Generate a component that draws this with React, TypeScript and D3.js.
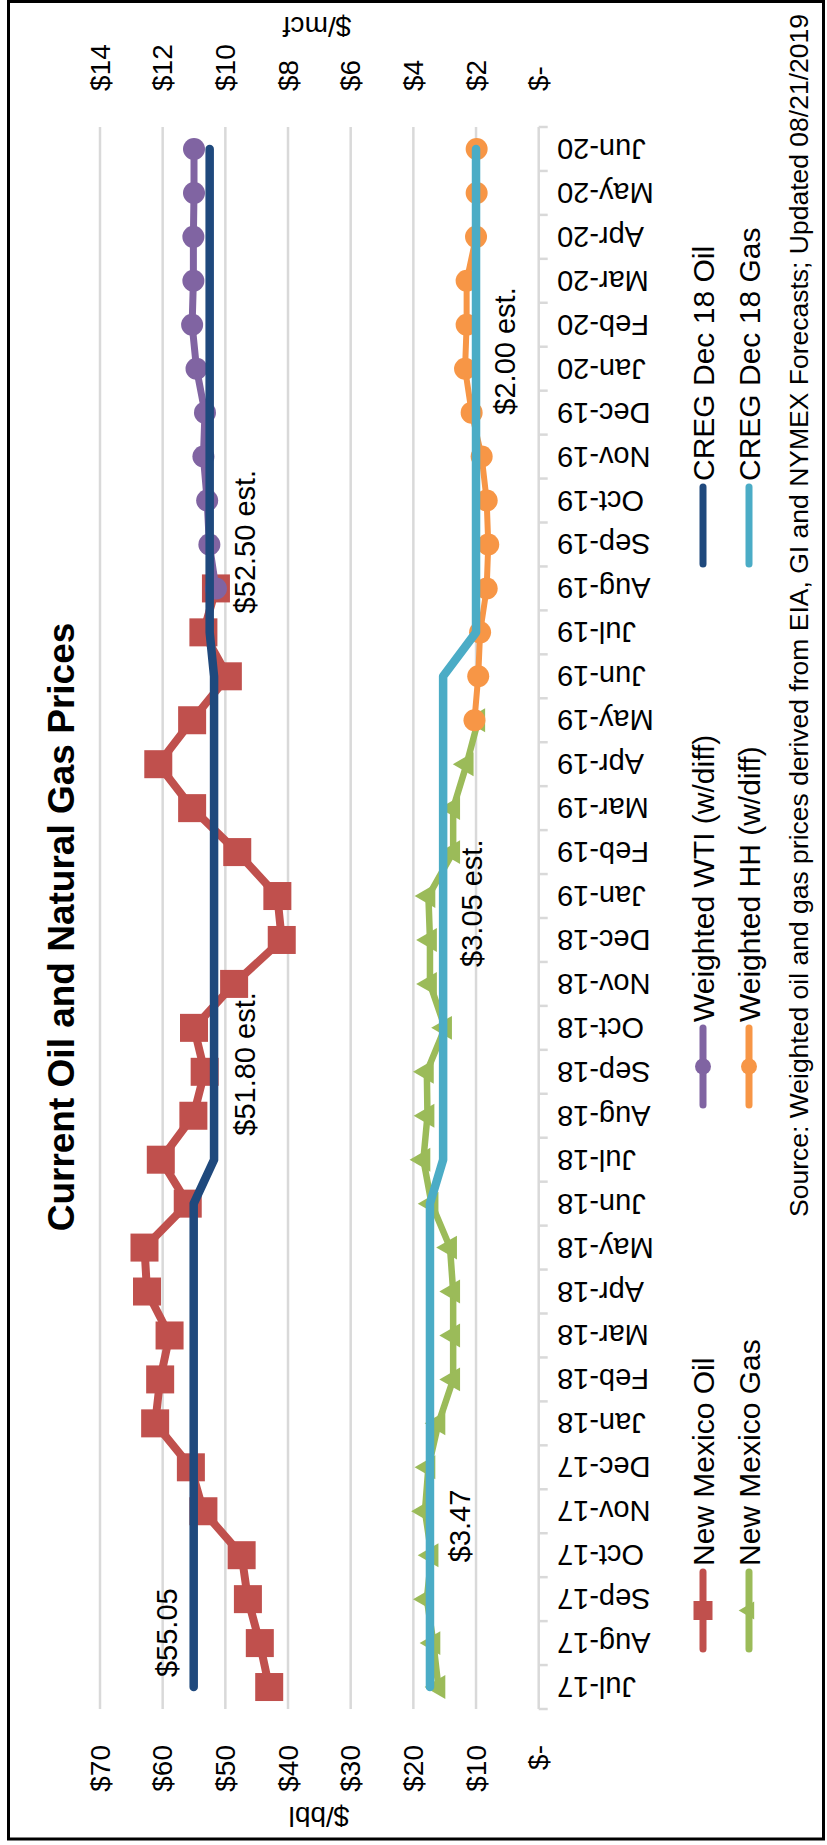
import React, { useRef, useEffect } from 'react';
import * as d3 from 'd3';

// months on the category axis
const months = ['Jul-17', 'Aug-17', 'Sep-17', 'Oct-17', 'Nov-17', 'Dec-17', 'Jan-18', 'Feb-18', 'Mar-18',
  'Apr-18', 'May-18', 'Jun-18', 'Jul-18', 'Aug-18', 'Sep-18', 'Oct-18', 'Nov-18', 'Dec-18', 'Jan-19',
  'Feb-19', 'Mar-19', 'Apr-19', 'May-19', 'Jun-19', 'Jul-19', 'Aug-19', 'Sep-19', 'Oct-19', 'Nov-19',
  'Dec-19', 'Jan-20', 'Feb-20', 'Mar-20', 'Apr-20', 'May-20', 'Jun-20'];

// $/bbl, Jul-17 .. Aug-19
const nmOil = [43.0, 44.5, 46.4, 47.4, 53.5, 55.5, 61.2, 60.4, 58.9, 62.5, 62.9, 56.0, 60.3, 55.1,
  53.3, 55.0, 48.6, 41.0, 41.7, 48.1, 55.3, 60.7, 55.3, 49.6, 53.5, 51.5];
// $/mcf, Jul-17 .. May-19
const nmGas = [3.20, 3.36, 3.57, 3.42, 3.63, 3.52, 3.20, 2.73, 2.73, 2.73, 2.83, 3.42, 3.68, 3.55,
  3.57, 2.99, 3.47, 3.47, 3.52, 2.73, 2.73, 2.30, 1.93];
// $/bbl, Aug-19 .. Jun-20
const weightedWti = [51.5, 52.55, 52.9, 53.5, 53.25, 54.6, 55.3, 55.1, 55.1, 55.0, 55.0];
// $/mcf, May-19 .. Jun-20
const weightedHh = [2.05, 1.93, 1.87, 1.66, 1.61, 1.66, 1.82, 2.14, 2.35, 2.30, 2.30, 2.00, 1.98, 1.98];
// CREG forecasts, Jul-17 .. Jun-20
const cregOil = [55.05, 55.05, 55.05, 55.05, 55.05, 55.05, 55.05, 55.05, 55.05, 55.05, 55.05, 55.05,
  51.80, 51.80, 51.80, 51.80, 51.80, 51.80, 51.80, 51.80, 51.80, 51.80, 51.80, 51.80,
  52.50, 52.50, 52.50, 52.50, 52.50, 52.50, 52.50, 52.50, 52.50, 52.50, 52.50, 52.50];
const cregGas = [3.47, 3.47, 3.47, 3.47, 3.47, 3.47, 3.47, 3.47, 3.47, 3.47, 3.47, 3.47,
  3.05, 3.05, 3.05, 3.05, 3.05, 3.05, 3.05, 3.05, 3.05, 3.05, 3.05, 3.05,
  2.00, 2.00, 2.00, 2.00, 2.00, 2.00, 2.00, 2.00, 2.00, 2.00, 2.00, 2.00];

const oilTicks = [0, 10, 20, 30, 40, 50, 60, 70];
const gasTicks = [0, 2, 4, 6, 8, 10, 12, 14];

const dataLabels = [
  { text: '$55.05', month: 'Jul-17', value: 55.05, axis: 'oil' },
  { text: '$3.47', month: 'Oct-17', value: 3.47, axis: 'gas' },
  { text: '$51.80 est.', month: 'Jul-18', value: 51.80, axis: 'oil' },
  { text: '$3.05 est.', month: 'Nov-18', value: 3.05, axis: 'gas' },
  { text: '$52.50 est.', month: 'Jul-19', value: 52.50, axis: 'oil' },
  { text: '$2.00 est.', month: 'Dec-19', value: 2.00, axis: 'gas' },
];

const legendNames = ['New Mexico Oil', 'New Mexico Gas', 'Weighted WTI (w/diff)', 'Weighted HH (w/diff)',
  'CREG Dec 18 Oil', 'CREG Dec 18 Gas'];

const title = 'Current Oil and Natural Gas Prices';
const source = 'Source: Weighted oil and gas prices derived from EIA, GI and NYMEX Forecasts; Updated 08/21/2019';

const FONT = "'Liberation Sans', Arial, sans-serif";

const App = () => {
  const svgRef = useRef(null);
  const W = 827, H = 1845;

  useEffect(() => {
    const svg = d3.select(svgRef.current);
    svg.selectAll('*').remove();
    svg.attr('style', 'background-color: #ffffff');

    svg.append('rect').attr('width', W).attr('height', H).attr('fill', '#fff');

    // the whole chart is drawn unrotated and then turned a quarter left
    const g = svg.append('g').attr('transform', `translate(0,${H}) rotate(-90)`);

    const x = d3.scaleBand().domain(months).range([136, 1718]);
    const xc = (m) => x(m) + x.bandwidth() / 2;
    const yOil = d3.scaleLinear().domain([0, 70]).range([538.7, 100]);
    const yGas = d3.scaleLinear().domain([0, 14]).range([538.7, 100]);

    // gridlines
    g.selectAll('.grid').data(oilTicks.filter(d => d > 0)).enter().append('line')
      .attr('x1', 136).attr('x2', 1718)
      .attr('y1', d => yOil(d)).attr('y2', d => yOil(d))
      .attr('stroke', '#d9d9d9').attr('stroke-width', 2.5);

    // category axis
    g.append('line').attr('x1', 136).attr('x2', 1718)
      .attr('y1', yOil(0)).attr('y2', yOil(0))
      .attr('stroke', '#d9d9d9').attr('stroke-width', 2.5);
    const bounds = months.map(m => x(m)).concat([1718]);
    g.selectAll('.tick').data(bounds).enter().append('line')
      .attr('x1', d => d).attr('x2', d => d)
      .attr('y1', yOil(0)).attr('y2', yOil(0) + 9)
      .attr('stroke', '#d9d9d9').attr('stroke-width', 2.5);

    g.selectAll('.mlab').data(months).enter().append('text')
      .attr('transform', d => `translate(${xc(d)},557) rotate(-90)`)
      .attr('text-anchor', 'end').attr('dominant-baseline', 'central')
      .attr('font-family', FONT).attr('font-size', 29).attr('fill', '#000')
      .text(d => d);

    // value axes
    g.selectAll('.ltick').data(oilTicks).enter().append('text')
      .attr('x', 100).attr('y', d => yOil(d))
      .attr('text-anchor', 'end').attr('dominant-baseline', 'central')
      .attr('font-family', FONT).attr('font-size', 28)
      .text(d => d === 0 ? '$-' : `$${d}`);
    g.selectAll('.rtick').data(gasTicks).enter().append('text')
      .attr('x', 1754).attr('y', d => yGas(d))
      .attr('text-anchor', 'start').attr('dominant-baseline', 'central')
      .attr('font-family', FONT).attr('font-size', 28)
      .text(d => d === 0 ? '$-' : `$${d}`);

    g.append('text').attr('transform', 'translate(29,319) rotate(-90)')
      .attr('text-anchor', 'middle').attr('dominant-baseline', 'central')
      .attr('font-family', FONT).attr('font-size', 28).text('$/bbl');
    g.append('text').attr('transform', 'translate(1819,317) rotate(-90)')
      .attr('text-anchor', 'middle').attr('dominant-baseline', 'central')
      .attr('font-family', FONT).attr('font-size', 28).text('$/mcf');

    // title and source
    g.append('text').attr('x', 918).attr('y', 74)
      .attr('text-anchor', 'middle')
      .attr('font-family', FONT).attr('font-size', 37).attr('font-weight', 'bold')
      .text(title);
    g.append('text').attr('x', 1831).attr('y', 799)
      .attr('text-anchor', 'end').attr('dominant-baseline', 'central')
      .attr('font-family', FONT).attr('font-size', 26.5)
      .text(source);

    const series = [
      { name: legendNames[0], values: nmOil, start: 'Jul-17', y: yOil, color: '#C0504D', width: 8, marker: 'square' },
      { name: legendNames[1], values: nmGas, start: 'Jul-17', y: yGas, color: '#9BBB59', width: 6.5, marker: 'triangle' },
      { name: legendNames[2], values: weightedWti, start: 'Aug-19', y: yOil, color: '#8064A2', width: 7, marker: 'circle' },
      { name: legendNames[3], values: weightedHh, start: 'May-19', y: yGas, color: '#F79646', width: 6, marker: 'circle' },
      { name: legendNames[4], values: cregOil, start: 'Jul-17', y: yOil, color: '#1F497D', width: 8.5, marker: 'none' },
      { name: legendNames[5], values: cregGas, start: 'Jul-17', y: yGas, color: '#4BACC6', width: 8.5, marker: 'none' },
    ];

    const drawMarker = (sel, kind, color, px, py, size) => {
      if (kind === 'square') {
        sel.append('rect').attr('x', px - size / 2).attr('y', py - size / 2)
          .attr('width', size).attr('height', size).attr('fill', color);
      } else if (kind === 'circle') {
        sel.append('circle').attr('cx', px).attr('cy', py).attr('r', size / 2).attr('fill', color);
      } else if (kind === 'triangle') {
        sel.append('path').attr('d', d3.symbol().type(d3.symbolTriangle).size(size * size * 0.43)())
          .attr('transform', `translate(${px},${py})`).attr('fill', color);
      }
    };

    const markerSize = { square: 28, circle: 22, triangle: 24 };

    series.forEach(s => {
      const offset = months.indexOf(s.start);
      const pts = s.values.map((v, i) => [months[offset + i], v]);
      const line = d3.line().x(d => xc(d[0])).y(d => s.y(d[1]));
      g.append('path').attr('d', line(pts))
        .attr('fill', 'none').attr('stroke', s.color).attr('stroke-width', s.width)
        .attr('stroke-linejoin', 'round').attr('stroke-linecap', 'round');
      pts.forEach(d => drawMarker(g, s.marker, s.color, xc(d[0]), s.y(d[1]), markerSize[s.marker]));
    });

    // data labels on the CREG lines
    const labelShift = [[10, -27], [-7, 30], [24, 31], [17, 29], [19, 35], [-2, 29]];
    dataLabels.forEach((d, i) => {
      const sc = d.axis === 'oil' ? yOil : yGas;
      g.append('text')
        .attr('x', xc(d.month) + labelShift[i][0]).attr('y', sc(d.value) + labelShift[i][1])
        .attr('dominant-baseline', 'central')
        .attr('font-family', FONT).attr('font-size', 29)
        .text(d.text);
    });

    // legend, two rows of three
    const legendCols = [196, 740, 1281];
    const legendRows = [703, 749];
    series.forEach((s, i) => {
      const col = Math.floor(i / 2), row = i % 2;
      const lx = legendCols[col], ly = legendRows[row];
      g.append('line').attr('x1', lx).attr('x2', lx + 77).attr('y1', ly).attr('y2', ly)
        .attr('stroke', s.color).attr('stroke-width', 7).attr('stroke-linecap', 'round');
      drawMarker(g, s.marker, s.color, lx + 38.5, ly, s.marker === 'square' ? 19 : s.marker === 'triangle' ? 18 : 16);
      g.append('text').attr('x', lx + 83).attr('y', ly)
        .attr('dominant-baseline', 'central')
        .attr('font-family', FONT).attr('font-size', 30)
        .text(s.name);
    });

    // frame
    svg.append('rect').attr('x', 8.5).attr('y', 1.5).attr('width', 815).attr('height', 1837.5)
      .attr('fill', 'none').attr('stroke', '#000').attr('stroke-width', 3);
  }, []);

  return (
    <div style={{ position: 'absolute', left: 0, top: 0 }}>
      <svg ref={svgRef} width={W} height={H} style={{ display: 'block' }}></svg>
    </div>
  );
};

export default App;
